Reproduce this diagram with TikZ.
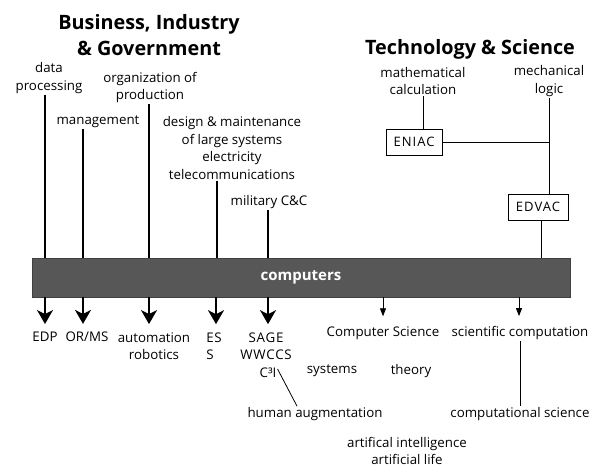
\documentclass[tikz,border=0pt]{standalone}
\usepackage{fontspec}
\setmainfont{Open Sans}
\usetikzlibrary{arrows.meta,positioning}
\tikzset{
    label text/.style={font=\fontsize{13.3}{17.5}\selectfont, align=center, inner sep=1pt},
    head text/.style={font=\bfseries\fontsize{19.8}{25.5}\selectfont, align=center, inner sep=1pt},
    machine/.style={draw, thin, rectangle, font=\fontsize{13}{15}\selectfont\addfontfeature{LetterSpace=8},
        inner sep=0pt, minimum height=26pt},
    bar/.style={draw=black!75, fill=black!66, text=white, font=\bfseries\fontsize{15}{17}\selectfont,
        minimum width=538pt, minimum height=39pt},
    feed/.style={line width=1.7pt},
    big out/.style={line width=1.7pt, -{Stealth[width=16pt,length=14pt,inset=4pt]}},
    small out/.style={line width=0.8pt, -{Triangle[width=6pt,length=8pt]}},
    link/.style={line width=0.8pt}
}

\begin{document}
\begin{tikzpicture}[x=1pt,y=-1pt]
    \useasboundingbox (0,0) rectangle (595,468);

    % headings
    \node[head text] (big) at (149,35) {Business, Industry\\\& Government};
    \node[head text] (tech) at (470,49) {Technology \& Science};

    % the bar
    \node[bar] (bar) at (301,277.5) {computers};

    % business side
    \node[label text] (dp) at (49,78) {data\\processing};
    \node[label text] (mg) at (98,122) {management};
    \node[label text] (op) at (150,87.5) {organization of\\production};
    \node[label text] (dm) at (232,148) {design \& maintenance\\of large systems\\electricity\\telecommunications};
    \node[label text] (mc) at (269,202) {military C\&C};

    \draw[feed] ([xshift=-4pt]dp.south) -- ([xshift=-4pt]dp.south |- bar.north);
    \draw[feed] ([xshift=-15pt]mg.south) -- ([xshift=-15pt]mg.south |- bar.north);
    \draw[feed] ([xshift=-1pt]op.south) -- ([xshift=-1pt]op.south |- bar.north);
    \draw[feed] ([xshift=-15pt]dm.south) -- ([xshift=-15pt]dm.south |- bar.north);
    \draw[feed] ([xshift=-1pt]mc.south) -- ([xshift=-1pt]mc.south |- bar.north);

    % science side
    \node[label text] (mcal) at (423,81) {mathematical\\calculation};
    \node[label text] (ml) at (549,81) {mechanical\\logic};
    \node[machine, minimum width=56pt] (eniac) at (414,142) {ENIAC};
    \node[machine, minimum width=60pt] (edvac) at (538,207) {EDVAC};

    \draw[link] (mcal.south) -- (mcal.south |- eniac.north);
    \draw[link] (ml.south) -- (ml.south |- edvac.north);
    \draw[link] (eniac.east) -- (eniac.east -| ml.south);
    \draw[link] ([xshift=3pt]edvac.south) -- ([xshift=3pt]edvac.south |- bar.north);

    % outcomes
    \node[label text] (edp) at (45,337) {EDP};
    \node[label text] (orms) at (87,337) {OR/MS};
    \node[label text] (auto) at (154,346) {automation\\robotics};
    \node[label text, align=left, font=\fontsize{13.3}{17.5}\selectfont\addfontfeature{LetterSpace=6}] (es) at (214,346) {ES\\S};
    \node[label text, font=\fontsize{13.3}{17.5}\selectfont\addfontfeature{LetterSpace=6}] (sage) at (266,346) {SAGE\\WWCCS};
    \node[label text] (c3i) at (268,373) {C³I};
    \node[label text] (cs) at (383,333) {Computer Science};
    \node[label text] (sys) at (332,371) {systems};
    \node[label text] (thy) at (411,371) {theory};
    \node[label text] (sc) at (520,333) {scientific computation};
    \node[label text] (cps) at (520,414) {computational science};
    \node[label text] (ha) at (315,414) {human augmentation};
    \node[label text] (ai) at (407,451) {artifical intelligence\\artificial life};

    \draw[big out, shorten >=7pt] (edp.north |- bar.south) -- (edp.north);
    \draw[big out, shorten >=7pt] ([xshift=-4pt]orms.north |- bar.south) -- ([xshift=-4pt]orms.north);
    \draw[big out, shorten >=7pt] ([xshift=-5pt]auto.north |- bar.south) -- ([xshift=-5pt]auto.north);
    \draw[big out, shorten >=7pt] ([xshift=2pt]es.north |- bar.south) -- ([xshift=2pt]es.north);
    \draw[big out, shorten >=7pt] ([xshift=2pt]sage.north |- bar.south) -- ([xshift=2pt]sage.north);
    \draw[small out, shorten >=9pt] (cs.north |- bar.south) -- (cs.north);
    \draw[small out, shorten >=9pt] ([xshift=-1pt]sc.north |- bar.south) -- ([xshift=-1pt]sc.north);

    \draw[link] (sc.south) -- (cps.north);
    \draw[link] ([yshift=4pt]c3i.east) -- ([xshift=-18pt]ha.north);
\end{tikzpicture}
\end{document}
